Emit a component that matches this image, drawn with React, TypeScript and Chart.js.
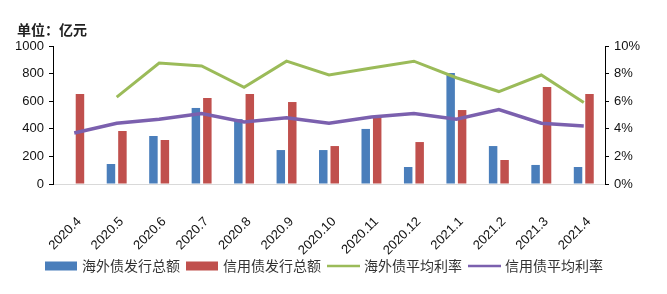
import React, { useEffect, useRef } from "react";
import { Chart, registerables } from "chart.js";

Chart.register(...registerables);

const categories = [
  "2020.4", "2020.5", "2020.6", "2020.7", "2020.8", "2020.9", "2020.10",
  "2020.11", "2020.12", "2021.1", "2021.2", "2021.3", "2021.4",
];
const overseasTotal = [0, 145, 348, 551, 470, 246, 246, 399, 123, 804, 275, 138, 123];
const creditTotal = [652, 384, 319, 623, 652, 594, 275, 486, 304, 536, 174, 703, 652];
const overseasRate = [null, 6.3, 8.77, 8.55, 7.0, 8.9, 7.9, 8.4, 8.9, 7.7, 6.7, 7.9, 5.9];
const creditRate = [3.7, 4.4, 4.7, 5.1, 4.5, 4.8, 4.4, 4.85, 5.1, 4.7, 5.4, 4.4, 4.2];
const leftTicks = [0, 200, 400, 600, 800, 1000];
const rightTicks = [0, 2, 4, 6, 8, 10];
const unitLabel = "单位：亿元";

const CJK = '"Noto Sans CJK SC", "Noto Sans", sans-serif';
const LAT = '"Liberation Sans", Arial, sans-serif';

const titlePlugin = {
  id: "unitTitle",
  afterDraw(chart: any) {
    const ctx = chart.ctx;
    ctx.save();
    ctx.font = `bold 14px ${CJK}`;
    ctx.fillStyle = "#222";
    ctx.textBaseline = "middle";
    ctx.textAlign = "left";
    ctx.fillText(unitLabel, 17, 30);
    ctx.restore();
  },
};

const legendPlugin = {
  id: "customLegend",
  afterDraw(chart: any) {
    const ctx = chart.ctx;
    ctx.save();
    ctx.font = `14px ${CJK}`;
    ctx.textBaseline = "middle";
    ctx.textAlign = "left";
    let x = 45;
    const y = 266;
    chart.data.datasets.forEach((ds: any) => {
      if (ds.type === "bar") {
        ctx.fillStyle = ds.backgroundColor;
        ctx.fillRect(x, y - 4.5, 32, 9);
      } else {
        ctx.strokeStyle = ds.borderColor;
        ctx.lineWidth = 2.5;
        ctx.beginPath();
        ctx.moveTo(x, y);
        ctx.lineTo(x + 33, y);
        ctx.stroke();
      }
      x += 37;
      ctx.fillStyle = "#333";
      ctx.fillText(ds.label, x, y);
      x += ctx.measureText(ds.label).width + 6;
    });
    ctx.restore();
  },
};

export default function App() {
  const ref = useRef<HTMLCanvasElement | null>(null);
  useEffect(() => {
    if (!ref.current) return;
    const chart = new Chart(ref.current, {
      type: "bar",
      data: {
        labels: categories,
        datasets: [
          {
            type: "bar",
            label: "海外债发行总额",
            data: overseasTotal,
            backgroundColor: "#4A7EBB",
            yAxisID: "y",
            order: 2,
            categoryPercentage: 0.54,
            barPercentage: 0.74,
          },
          {
            type: "bar",
            label: "信用债发行总额",
            data: creditTotal,
            backgroundColor: "#C0504D",
            yAxisID: "y",
            order: 2,
            categoryPercentage: 0.54,
            barPercentage: 0.74,
          },
          {
            type: "line",
            label: "海外债平均利率",
            data: overseasRate,
            borderColor: "#9BBB59",
            backgroundColor: "#9BBB59",
            borderWidth: 3,
            pointRadius: 0,
            tension: 0,
            yAxisID: "y1",
            order: 1,
          },
          {
            type: "line",
            label: "信用债平均利率",
            data: creditRate,
            borderColor: "#7B60AE",
            backgroundColor: "#7B60AE",
            borderWidth: 3.5,
            pointRadius: 0,
            tension: 0,
            yAxisID: "y1",
            order: 1,
          },
        ] as any,
      },
      options: {
        animation: false,
        responsive: false,
        maintainAspectRatio: false,
        layout: { padding: { top: 46, bottom: 0, left: 0, right: 0 } },
        plugins: {
          legend: { display: false },
          tooltip: { enabled: false },
          title: { display: false },
        },
        scales: {
          x: {
            grid: { display: false, drawTicks: false },
            border: { display: true, color: "#d9d9d9", width: 1 },
            ticks: {
              autoSkip: false,
              maxRotation: 45,
              minRotation: 45,
              padding: 30,
              labelOffset: 5,
              color: "#111",
              font: { family: LAT, size: 13 },
            },
            afterFit: (s: any) => {
              s.height = 110;
            },
          },
          y: {
            position: "left",
            min: 0,
            max: 1000,
            afterBuildTicks: (s: any) => {
              s.ticks = leftTicks.map((v) => ({ value: v }));
            },
            grid: {
              drawOnChartArea: false,
              drawTicks: true,
              tickLength: 4,
              tickWidth: 1,
              tickColor: "#000",
              color: "#000",
            },
            border: { display: true, color: "#000", width: 1 },
            ticks: {
              padding: 5,
              color: "#111",
              font: { family: LAT, size: 13 },
              callback: (v: any) => String(v),
            },
            afterFit: (s: any) => {
              s.width = 53;
            },
          },
          y1: {
            position: "right",
            min: 0,
            max: 10,
            afterBuildTicks: (s: any) => {
              s.ticks = rightTicks.map((v) => ({ value: v }));
            },
            grid: {
              drawOnChartArea: false,
              drawTicks: true,
              tickLength: 4,
              tickWidth: 1,
              tickColor: "#000",
              color: "#000",
            },
            border: { display: true, color: "#000", width: 1 },
            ticks: {
              padding: 5,
              color: "#111",
              font: { family: LAT, size: 13 },
              callback: (v: any) => `${v}%`,
            },
            afterFit: (s: any) => {
              s.width = 62;
            },
          },
        },
      },
      plugins: [titlePlugin, legendPlugin],
    });
    return () => chart.destroy();
  }, []);
  return (
    <div style={{ position: "absolute", left: 0, top: 0, width: 667, height: 294, background: "#fff" }}>
      <canvas ref={ref} width={667} height={294} style={{ width: 667, height: 294 }} />
    </div>
  );
}
